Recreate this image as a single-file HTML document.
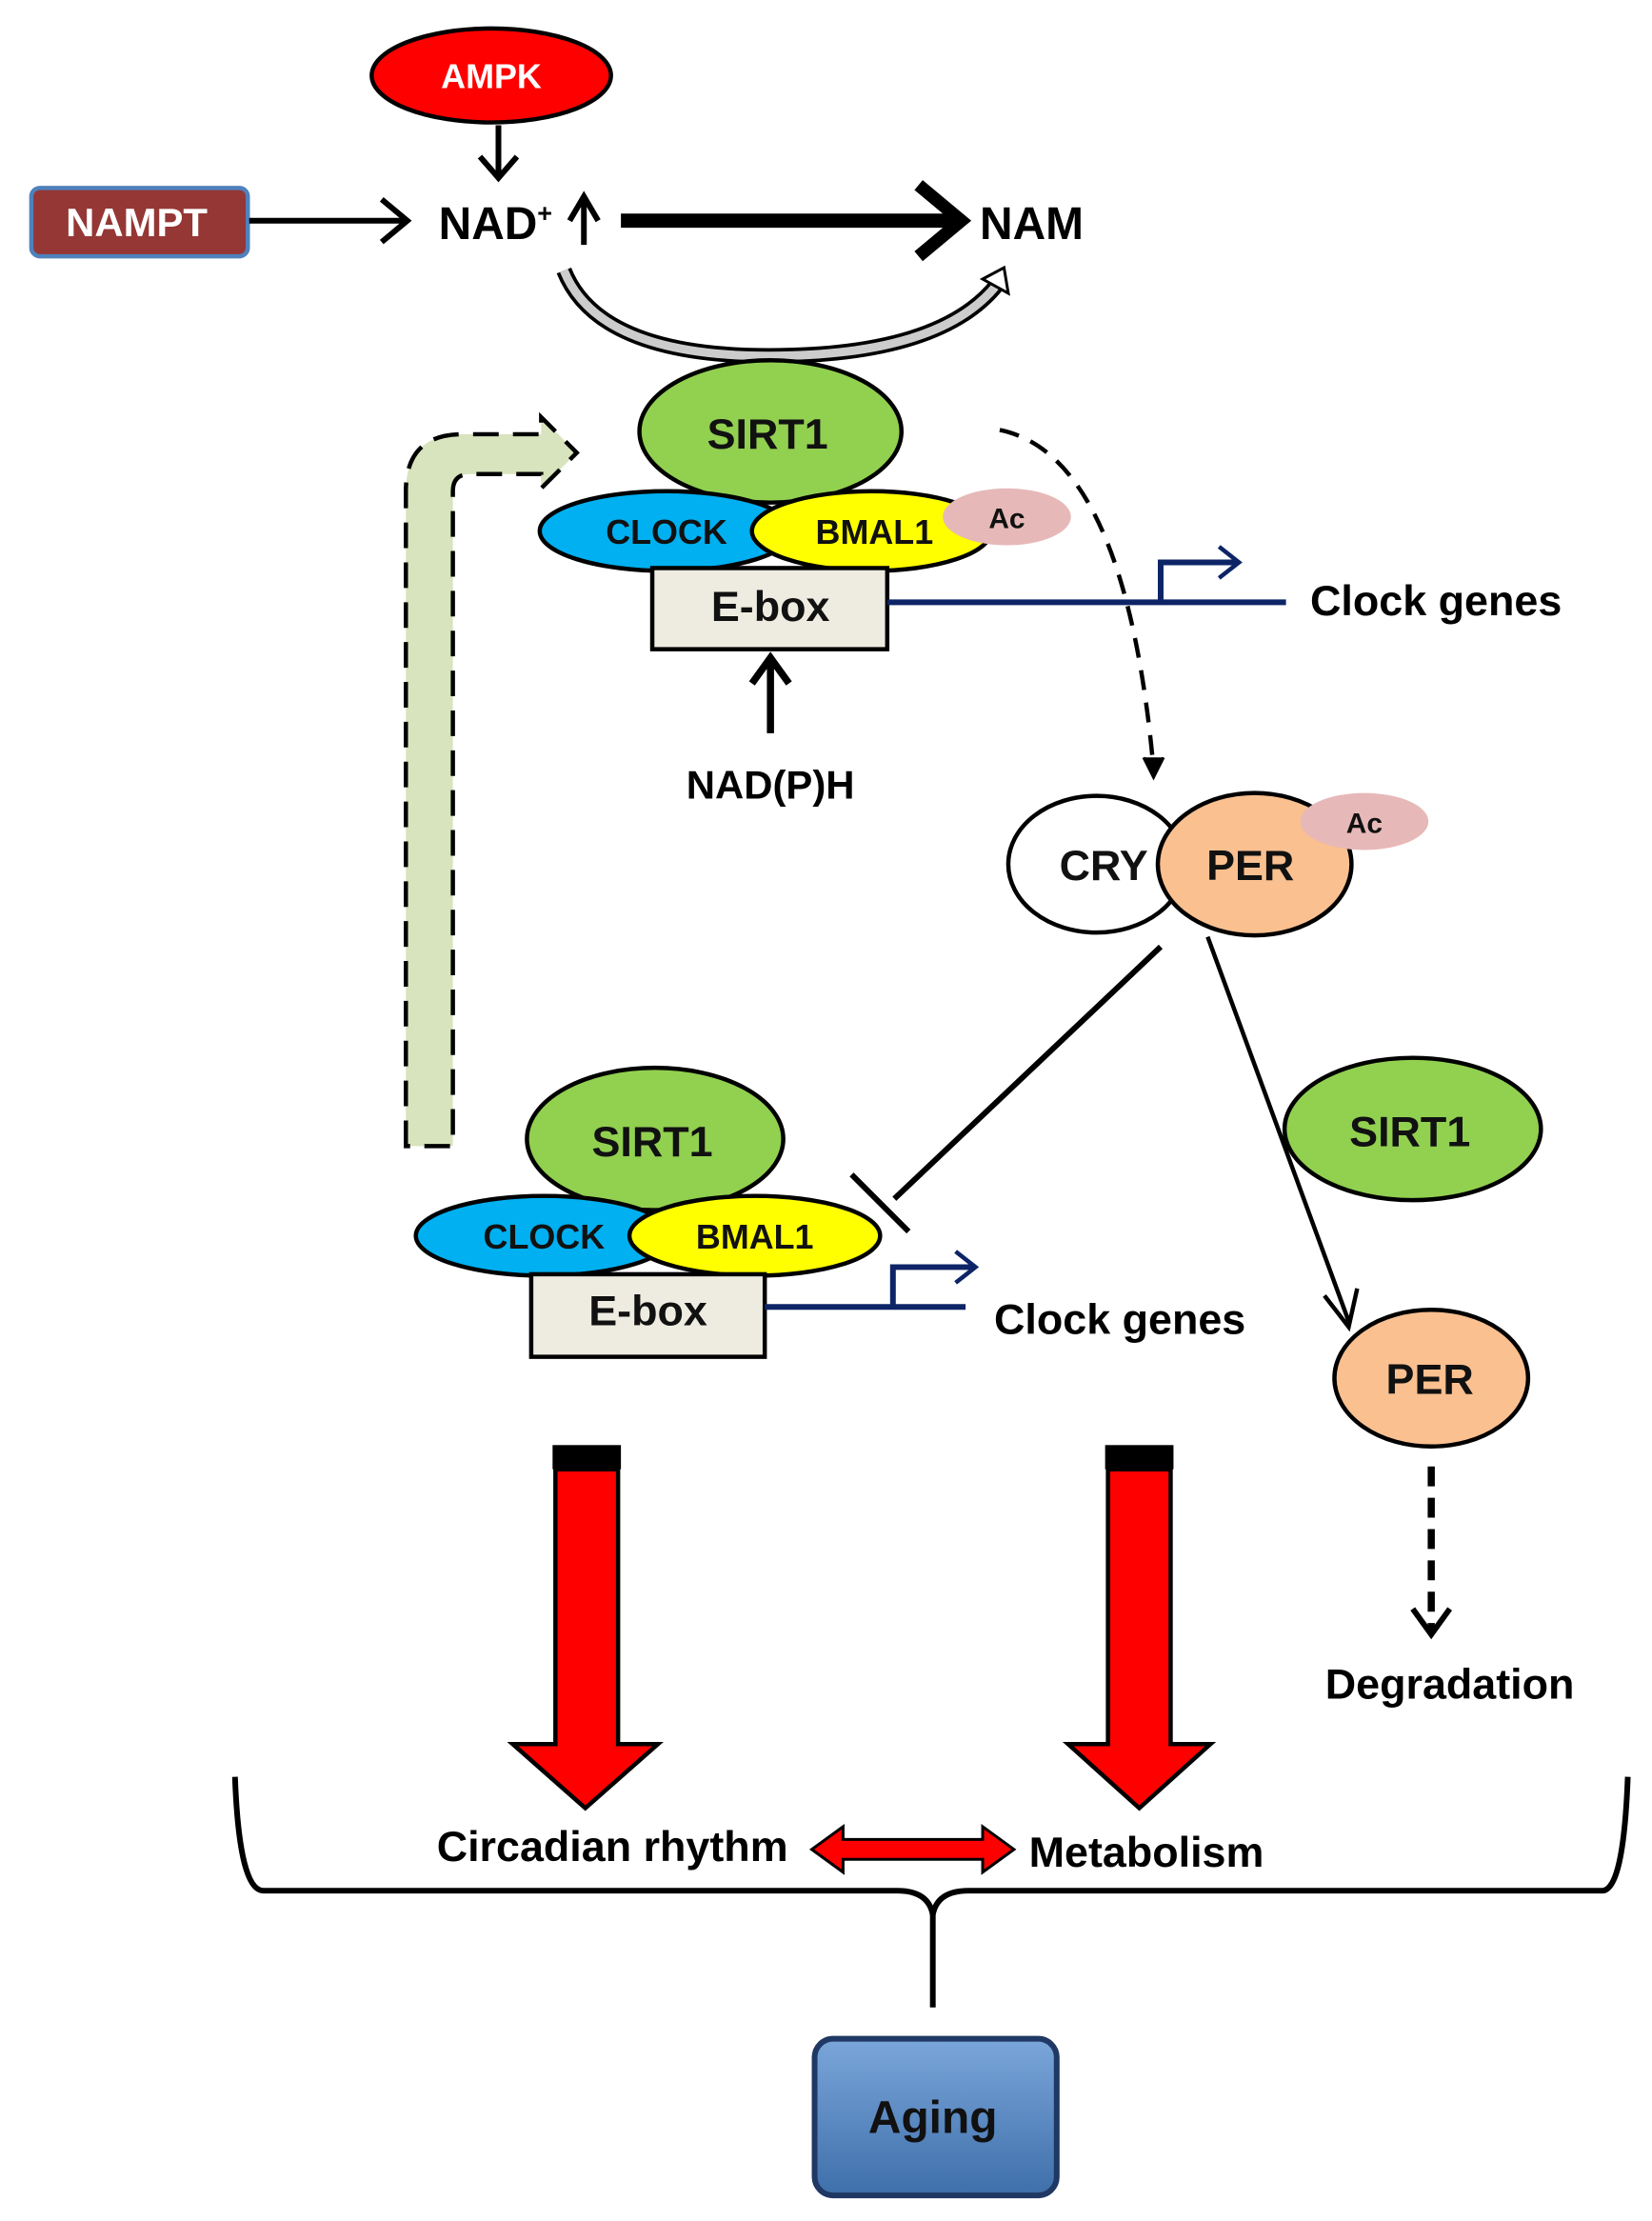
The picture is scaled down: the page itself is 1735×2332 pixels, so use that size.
<!DOCTYPE html>
<html><head><meta charset="utf-8"><style>
html,body{margin:0;padding:0;background:#fff}
svg{display:block}
text{font-family:"Liberation Sans",sans-serif;font-weight:bold}
</style></head><body>
<svg width="1735" height="2332" viewBox="0 0 1160 1560" preserveAspectRatio="none" xmlns="http://www.w3.org/2000/svg">
<defs>
<marker id="ah" markerWidth="10" markerHeight="10" refX="8" refY="5" orient="auto" markerUnits="userSpaceOnUse" viewBox="0 0 10 10"><path d="M0,0 L9,5 L0,10" fill="none" stroke="#000" stroke-width="2"/></marker>
<linearGradient id="ag" x1="0" y1="0" x2="0" y2="1"><stop offset="0" stop-color="#7aa6da"/><stop offset="1" stop-color="#3f6faa"/></linearGradient>
</defs>
<!-- AMPK -->
<ellipse cx="345" cy="53" rx="84" ry="33" fill="#f00" stroke="#000" stroke-width="3"/>
<text x="345" y="62" font-size="24" fill="#fff" text-anchor="middle">AMPK</text>
<path d="M350,88 V124 M337,110 L350,125 L363,110" fill="none" stroke="#000" stroke-width="4"/>
<!-- NAMPT -->
<rect x="22" y="132" width="152" height="48" rx="6" fill="#953735" stroke="#4f81bd" stroke-width="3"/>
<text x="96" y="166" font-size="28" fill="#fff" text-anchor="middle">NAMPT</text>
<path d="M175,155 H284 M268,140 L286,155 L268,170" fill="none" stroke="#000" stroke-width="4"/>
<text x="308" y="168" font-size="32" fill="#000">NAD<tspan font-size="18" dy="-12">+</tspan></text>
<path d="M410,172 V142 M400,155 L410,138 L420,155" fill="none" stroke="#000" stroke-width="4"/>
<path d="M436,155 H670" stroke="#000" stroke-width="10"/>
<path d="M645,130 L675,155 L645,180" fill="none" stroke="#000" stroke-width="9"/>
<text x="688" y="168" font-size="32" fill="#000">NAM</text>
<!-- curved arrow -->
<path d="M396,190 Q420,250 540,250 Q660,250 700,200" fill="none" stroke="#000" stroke-width="11"/>
<path d="M396,190 Q420,250 540,250 Q660,250 700,200" fill="none" stroke="#ccc" stroke-width="6"/>
<path d="M690,196 L705,188 L708,206 Z" fill="#fff" stroke="#000" stroke-width="2"/>
<!-- top complex -->
<ellipse cx="541" cy="303" rx="92" ry="50" fill="#92d050" stroke="#000" stroke-width="3"/>
<text x="539" y="315" font-size="30" fill="#111" text-anchor="middle">SIRT1</text>
<ellipse cx="468" cy="373" rx="89" ry="28" fill="#00b0f0" stroke="#000" stroke-width="3"/>
<text x="468" y="382" font-size="24" fill="#111" text-anchor="middle">CLOCK</text>
<ellipse cx="612" cy="373" rx="84" ry="28" fill="#ff0" stroke="#000" stroke-width="3"/>
<text x="614" y="382" font-size="24" fill="#111" text-anchor="middle">BMAL1</text>
<ellipse cx="707" cy="363" rx="45" ry="20" fill="#e6b9b8"/>
<text x="707" y="371" font-size="20" fill="#111" text-anchor="middle">Ac</text>
<rect x="458" y="399" width="165" height="57" fill="#eeece1" stroke="#000" stroke-width="3"/>
<text x="541" y="436" font-size="30" fill="#111" text-anchor="middle">E-box</text>
<path d="M623,423 H903 M815,423 V395 H868" fill="none" stroke="#0d2467" stroke-width="4"/>
<path d="M856,384 L870,395 L856,406" fill="none" stroke="#0d2467" stroke-width="3"/>
<text x="920" y="432" font-size="30" fill="#000">Clock genes</text>
<path d="M541,515 V464 M528,480 L541,462 L554,480" fill="none" stroke="#000" stroke-width="5"/>
<text x="541" y="561" font-size="28" fill="#000" text-anchor="middle">NAD(P)H</text>
<!-- dashed curve -->
<path d="M702,302 Q790,320 810,540" fill="none" stroke="#000" stroke-width="3" stroke-dasharray="14,9"/>
<path d="M803,532 L810,546 L817,532" fill="#000" stroke="#000" stroke-width="2"/>
<!-- CRY PER -->
<ellipse cx="770" cy="607" rx="62" ry="48" fill="#fff" stroke="#000" stroke-width="3"/>
<text x="775" y="618" font-size="30" fill="#111" text-anchor="middle">CRY</text>
<ellipse cx="881" cy="607" rx="68" ry="50" fill="#fac090" stroke="#000" stroke-width="3"/>
<text x="878" y="618" font-size="30" fill="#111" text-anchor="middle">PER</text>
<ellipse cx="958" cy="577" rx="45" ry="20" fill="#e6b9b8"/>
<text x="958" y="585" font-size="20" fill="#111" text-anchor="middle">Ac</text>
<path d="M815,665 L628,842 M598,825 L638,865" fill="none" stroke="#000" stroke-width="4"/>
<path d="M848,658 L947,928 M930,910 L947,932 L953,905" fill="none" stroke="#000" stroke-width="3"/>
<ellipse cx="992" cy="793" rx="90" ry="50" fill="#92d050" stroke="#000" stroke-width="3"/>
<text x="990" y="805" font-size="30" fill="#111" text-anchor="middle">SIRT1</text>
<!-- green dashed arrow -->
<path d="M285,805 L285,345 Q285,305 325,305 L380,305 L380,293 L405,318 L380,343 L380,333 L330,333 Q318,333 318,345 L318,805 Z" fill="#d7e4bd" stroke="#000" stroke-width="3" stroke-dasharray="18,10"/>
<!-- bottom complex -->
<ellipse cx="460" cy="800" rx="90" ry="50" fill="#92d050" stroke="#000" stroke-width="3"/>
<text x="458" y="812" font-size="30" fill="#111" text-anchor="middle">SIRT1</text>
<ellipse cx="382" cy="868" rx="90" ry="28" fill="#00b0f0" stroke="#000" stroke-width="3"/>
<text x="382" y="877" font-size="24" fill="#111" text-anchor="middle">CLOCK</text>
<ellipse cx="530" cy="868" rx="88" ry="28" fill="#ff0" stroke="#000" stroke-width="3"/>
<text x="530" y="877" font-size="24" fill="#111" text-anchor="middle">BMAL1</text>
<rect x="373" y="895" width="164" height="58" fill="#eeece1" stroke="#000" stroke-width="3"/>
<text x="455" y="931" font-size="30" fill="#111" text-anchor="middle">E-box</text>
<path d="M537,918 H678 M627,918 V890 H683" fill="none" stroke="#0d2467" stroke-width="4"/>
<path d="M671,879 L685,890 L671,901" fill="none" stroke="#0d2467" stroke-width="3"/>
<text x="698" y="937" font-size="30" fill="#000">Clock genes</text>
<!-- PER lower -->
<ellipse cx="1005" cy="968" rx="68" ry="48" fill="#fac090" stroke="#000" stroke-width="3"/>
<text x="1004" y="979" font-size="30" fill="#111" text-anchor="middle">PER</text>
<path d="M1005,1030 V1145" stroke="#000" stroke-width="5" stroke-dasharray="14,8"/>
<path d="M992,1130 L1005,1148 L1018,1130" fill="none" stroke="#000" stroke-width="4"/>
<text x="1018" y="1193" font-size="30" fill="#000" text-anchor="middle">Degradation</text>
<!-- red arrows -->
<rect x="388" y="1015" width="48" height="17" fill="#000"/>
<path d="M390,1032 H434 V1225 H462 L411,1270 L360,1225 H390 Z" fill="#f00" stroke="#000" stroke-width="3"/>
<rect x="776" y="1015" width="48" height="17" fill="#000"/>
<path d="M778,1032 H822 V1225 H850 L800,1270 L750,1225 H778 Z" fill="#f00" stroke="#000" stroke-width="3"/>
<text x="430" y="1307" font-size="30" fill="#000" text-anchor="middle">Circadian rhythm</text>
<text x="805" y="1311" font-size="30" fill="#000" text-anchor="middle">Metabolism</text>
<path d="M570,1299 L592,1283 V1292 H690 V1283 L712,1299 L690,1315 V1306 H592 V1315 Z" fill="#f00" stroke="#000" stroke-width="2"/>
<!-- brace -->
<path d="M165,1248 Q168,1328 185,1328 H630 Q652,1328 655,1345 Q658,1328 680,1328 H1125 Q1140,1328 1143,1248" fill="none" stroke="#000" stroke-width="4"/>
<path d="M655,1345 V1410" stroke="#000" stroke-width="4"/>
<!-- Aging -->
<rect x="572" y="1432" width="170" height="110" rx="13" fill="url(#ag)" stroke="#1f3864" stroke-width="4"/>
<text x="655" y="1498" font-size="32" fill="#111" text-anchor="middle">Aging</text>
</svg>
</body></html>
